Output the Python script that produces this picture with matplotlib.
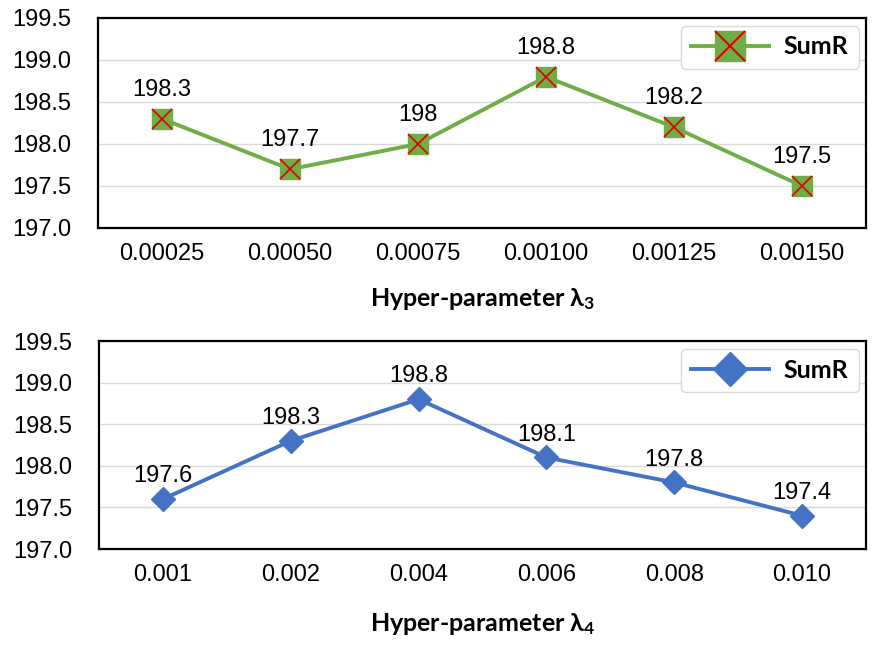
import matplotlib.pyplot as plt
from matplotlib.lines import Line2D

# Data
x_top = ['0.00025', '0.00050', '0.00075', '0.00100', '0.00125', '0.00150']
y_top = [198.3, 197.7, 198.0, 198.8, 198.2, 197.5]
lab_top = ['198.3', '197.7', '198', '198.8', '198.2', '197.5']

x_bot = ['0.001', '0.002', '0.004', '0.006', '0.008', '0.010']
y_bot = [197.6, 198.3, 198.8, 198.1, 197.8, 197.4]
lab_bot = ['197.6', '198.3', '198.8', '198.1', '197.8', '197.4']

yticks = [197.0, 197.5, 198.0, 198.5, 199.0, 199.5]

green = '#70AD47'
blue = '#4472C4'

plt.rcParams['font.family'] = ['Liberation Sans', 'DejaVu Sans']
plt.rcParams['mathtext.fontset'] = 'custom'
plt.rcParams['mathtext.rm'] = 'Lato:bold'
plt.rcParams['mathtext.it'] = 'Lato:bold'
plt.rcParams['mathtext.bf'] = 'Lato:bold'

fig = plt.figure(figsize=(8.96, 6.49), dpi=100)
W, H = 896, 649
ax1 = fig.add_axes([98 / W, 1 - 228 / H, 768 / W, 210 / H])
ax2 = fig.add_axes([99 / W, 1 - 549 / H, 767 / W, 208 / H])


def style(ax, labels, xlabel, pad):
    ax.set_xlim(-0.5, len(labels) - 0.5)
    ax.set_ylim(197.0, 199.5)
    ax.set_yticks(yticks)
    ax.set_yticklabels([f'{v:.1f}' for v in yticks])
    ax.set_xticks(range(len(labels)))
    ax.set_xticklabels(labels)
    ax.tick_params(length=0, labelsize=17)
    ax.tick_params(axis='y', pad=19)
    ax.tick_params(axis='x', pad=11)
    ax.grid(True, axis='y', color='#D9D9D9', linewidth=1)
    ax.set_axisbelow(True)
    for s in ax.spines.values():
        s.set_linewidth(1.6)
        s.set_color('black')
    ax.set_xlabel(xlabel, fontsize=18, fontweight='bold', family='Lato', labelpad=pad)


leg_kw = dict(loc='upper right', prop={'family': 'Lato', 'weight': 'bold', 'size': 18},
              handlelength=3.1, borderpad=0.4, handletextpad=0.6, edgecolor='#D9D9D9',
              fancybox=True, framealpha=1, bbox_to_anchor=(1.0, 1.0), borderaxespad=0.3)

# top chart
xs = range(len(x_top))
ax1.plot(xs, y_top, color=green, linewidth=2.8, marker='s', markersize=15,
         markerfacecolor=green, markeredgecolor=green, zorder=3)
ax1.plot(xs, y_top, linestyle='none', marker='x', markersize=14,
         markeredgecolor='#E00000', markeredgewidth=1.2, zorder=4)
for i, (v, t) in enumerate(zip(y_top, lab_top)):
    ax1.annotate(t, (i, v), xytext=(0, 13), textcoords='offset points',
                 ha='center', va='bottom', fontsize=17)
style(ax1, x_top, r'Hyper-parameter $\lambda_3$', 15)
h1 = (Line2D([], [], color=green, linewidth=2.8, marker='s', markersize=22,
             markerfacecolor=green, markeredgecolor=green),
      Line2D([], [], linestyle='none', marker='x', markersize=21,
             markeredgecolor='#E00000', markeredgewidth=1.5))
ax1.legend([h1], ['SumR'], **leg_kw)

# bottom chart
xs = range(len(x_bot))
ax2.plot(xs, y_bot, color=blue, linewidth=2.8, marker='D', markersize=12,
         markerfacecolor=blue, markeredgecolor=blue, zorder=3)
for i, (v, t) in enumerate(zip(y_bot, lab_bot)):
    ax2.annotate(t, (i, v), xytext=(0, 8.5), textcoords='offset points',
                 ha='center', va='bottom', fontsize=17)
style(ax2, x_bot, r'Hyper-parameter $\lambda_4$', 18)
h2 = Line2D([], [], color=blue, linewidth=2.8, marker='D', markersize=17,
            markerfacecolor=blue, markeredgecolor=blue)
ax2.legend([h2], ['SumR'], **leg_kw)

fig.savefig('out.png', dpi=100)
